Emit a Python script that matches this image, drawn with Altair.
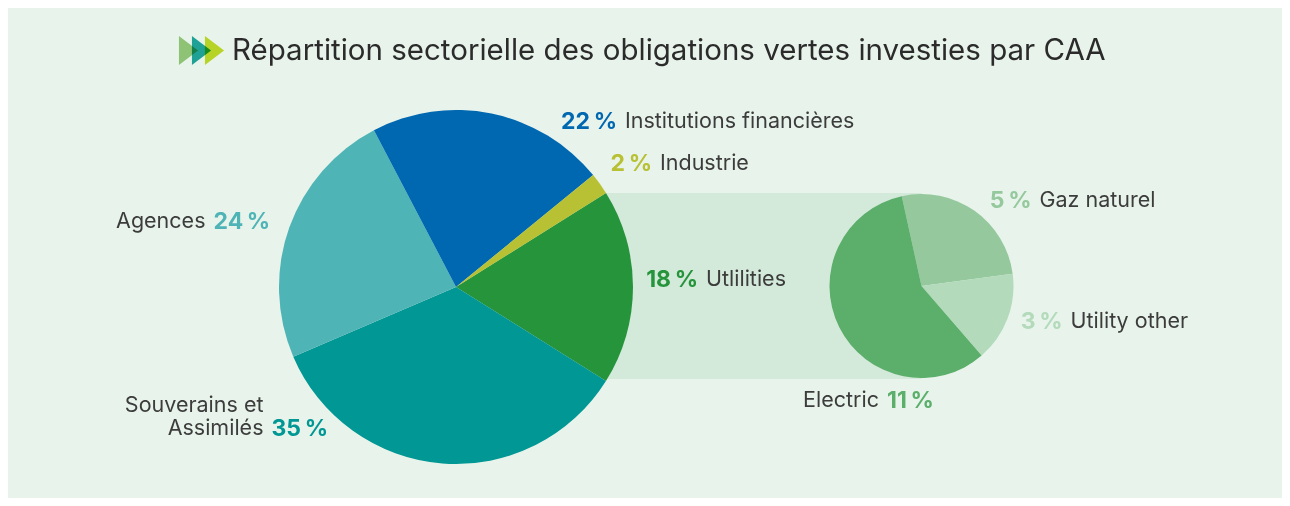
import math
import altair as alt
import pandas as pd

# ---------------- data ----------------
title_text = "Répartition sectorielle des obligations vertes investies par CAA"

big_names = ["Utlilities", "Souverains et\nAssimilés", "Agences", "Institutions financières", "Industrie"]
big_values = [18, 35, 24, 22, 2]

small_names = ["Gaz naturel", "Utility other", "Electric"]
small_values = [5, 3, 11]

# ---------------- styles ----------------
big_colors = ["#26943b", "#009794", "#4fb4b6", "#0067b1", "#b8c034"]
small_colors = ["#95c99d", "#b3dabb", "#5cae6b"]
bg_color = "#e8f4eb"
band_color = "#d3e9da"
text_color = "#3c3c3c"
FONT = "Inter"

# ---------------- layout (page px, chart is offset by 8px margin) ----------------
OX, OY = 8, 8
W, H = 1274, 490
big_cx, big_cy, big_r = 456 - OX, 287 - OY, 177
small_cx, small_cy, small_r = 921.5 - OX, 286 - OY, 92

big_start = math.radians(90 - big_values[0] / sum(big_values) * 180)
small_start = math.radians(347.6)

# label anchors: gap between number and name, vertical centre; and which part comes first
label_layout = {
    "Utlilities": (702, 280, "pct"),
    "Souverains et\nAssimilés": (267.5, 429, "name"),
    "Agences": (209.5, 221.5, "name"),
    "Institutions financières": (621, 122, "pct"),
    "Industrie": (656, 164, "pct"),
    "Gaz naturel": (1035.5, 200.5, "pct"),
    "Utility other": (1066.5, 321.5, "pct"),
    "Electric": (883, 400.5, "name"),
}
GAP = 4
LINE_H = 23.5

# ---------------- tables ----------------
big_df = pd.DataFrame({"name": big_names, "value": big_values, "idx": range(len(big_names))})
small_df = pd.DataFrame({"name": small_names, "value": small_values, "idx": range(len(small_names))})

pct_rows, name_rows = [], []
for names, values, colors in ((big_names, big_values, big_colors), (small_names, small_values, small_colors)):
    for n, v, c in zip(names, values, colors):
        gx, gy, first = label_layout[n]
        sign = -1 if first == "pct" else 1
        pct_rows.append({"t": f"{v}\u2009%", "x": gx + sign * GAP - OX, "y": gy - OY, "c": c,
                         "side": "right" if first == "pct" else "left"})
        lines = n.split("\n")
        for i, line in enumerate(lines):
            name_rows.append({"t": line, "x": gx - sign * GAP - OX,
                              "y": gy - OY - (len(lines) - 1 - i) * LINE_H,
                              "side": "left" if first == "pct" else "right"})
pct_df = pd.DataFrame(pct_rows)
name_df = pd.DataFrame(name_rows)

# ---------------- marks ----------------
band = alt.Chart(pd.DataFrame({"k": [0]})).mark_rect(color=band_color).encode(
    x=alt.value(big_cx), x2=alt.value(small_cx),
    y=alt.value(193 - OY), y2=alt.value(379 - OY),
)

big_pie = alt.Chart(big_df).mark_arc(radius=big_r, stroke=None).encode(
    theta=alt.Theta("value:Q", stack=True, scale=alt.Scale(range=[big_start, big_start + 2 * math.pi])),
    color=alt.Color("name:N", scale=alt.Scale(domain=big_names, range=big_colors), legend=None),
    order=alt.Order("idx:Q"),
    x=alt.value(big_cx), y=alt.value(big_cy),
)

small_pie = alt.Chart(small_df).mark_arc(radius=small_r, stroke=None).encode(
    theta=alt.Theta("value:Q", stack=True, scale=alt.Scale(range=[small_start, small_start + 2 * math.pi])),
    color=alt.Color("name:N", scale=alt.Scale(domain=small_names, range=small_colors), legend=None),
    order=alt.Order("idx:Q"),
    x=alt.value(small_cx), y=alt.value(small_cy),
)

tri_path = "M -0.66 -1 L 0.66 0 L -0.66 1 Z"
tri_colors = ["#9ccc80", "#22a8a3", "#cadd2a"]
tri_x = [188.5, 201.5, 214.5]
tris = [
    alt.Chart(pd.DataFrame({"k": [0]})).mark_point(
        shape=tri_path, size=841, filled=True, opacity=1, color=c, blend="multiply"
    ).encode(x=alt.value(tx - OX), y=alt.value(50.5 - OY))
    for c, tx in zip(tri_colors, tri_x)
]

title = alt.Chart(pd.DataFrame({"t": [title_text]})).mark_text(
    align="left", baseline="middle", font=FONT, fontSize=29.5, color="#2b2b2b"
).encode(text="t:N", x=alt.value(232 - OX), y=alt.value(51 - OY))


def txt(df, align, bold):
    return alt.Chart(df).mark_text(
        align=align, baseline="middle", font=FONT,
        fontSize=23 if bold else 21.5, fontWeight="bold" if bold else "normal",
    ).encode(
        text="t:N",
        x=alt.X("x:Q", scale=None, axis=None),
        y=alt.Y("y:Q", scale=None, axis=None),
        color=alt.Color("c:N", scale=None) if bold else alt.value(text_color),
    )


pct_r = txt(pct_df[pct_df.side == "right"], "right", True)
pct_l = txt(pct_df[pct_df.side == "left"], "left", True)
name_l = txt(name_df[name_df.side == "left"], "left", False)
name_r = txt(name_df[name_df.side == "right"], "right", False)

chart = alt.layer(
    band, big_pie, small_pie, *tris, title, pct_r, pct_l, name_l, name_r
).resolve_scale(
    theta="independent", color="independent"
).properties(
    width=W, height=H, background=bg_color, padding=0,
    autosize=alt.AutoSizeParams(type="none"),
).configure_view(stroke=None)

chart.save("out.html", embed_options={"renderer": "svg", "actions": False})
